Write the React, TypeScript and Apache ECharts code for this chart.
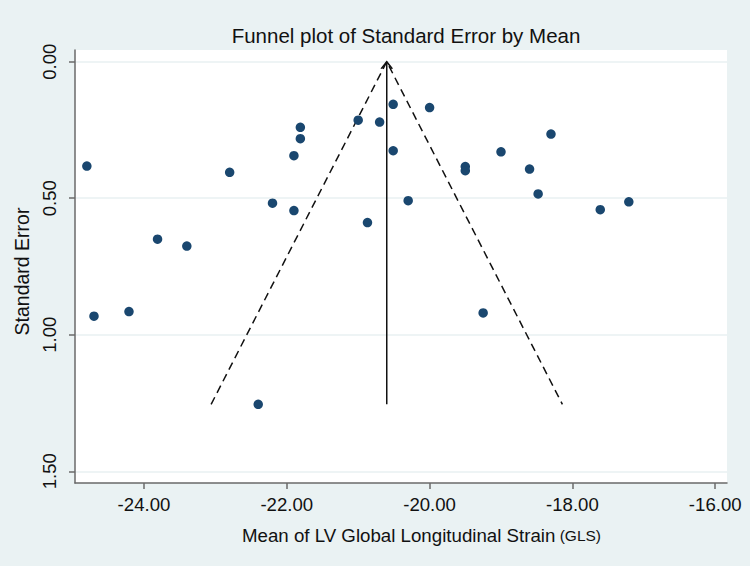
import React, { useEffect, useRef } from "react";
import * as echarts from "echarts";

// Study effect sizes (mean GLS) and their standard errors
const studyMeans: number[] = [
  -24.8, -24.7, -24.21, -23.81, -23.4, -22.8, -22.2, -21.9, -21.9, -21.81,
  -21.81, -22.4, -21.0, -20.87, -20.7, -20.51, -20.51, -20.3, -20.0, -19.5,
  -19.5, -19.25, -19.0, -18.6, -18.48, -18.3, -17.61, -17.21,
];
const studySE: number[] = [
  0.382, 0.932, 0.915, 0.65, 0.675, 0.405, 0.518, 0.344, 0.545, 0.24,
  0.282, 1.255, 0.214, 0.589, 0.221, 0.156, 0.326, 0.509, 0.168, 0.384,
  0.399, 0.92, 0.33, 0.393, 0.484, 0.265, 0.542, 0.513,
];

// Pooled estimate and funnel extent
const pooledMean = -20.6;
const maxSE = 1.255;

// Axis ticks
const xTicks: number[] = [-24, -22, -20, -18, -16];
const yTicks: number[] = [0, 0.5, 1.0, 1.5];

export default function App() {
  const ref = useRef<HTMLDivElement>(null);

  useEffect(() => {
    document.body.style.margin = "0";
    const chart = echarts.init(ref.current!, null, { renderer: "svg" });
    const points = studyMeans.map((m, i) => [m, studySE[i]]);
    const lo = pooledMean - 1.96 * maxSE;
    const hi = pooledMean + 1.96 * maxSE;
    const axisColor = "#6a6a6a";
    const font = "Liberation Sans, Arial, sans-serif";

    chart.setOption({
      animation: false,
      backgroundColor: "#eaf2f3",
      textStyle: { fontFamily: font },
      title: {
        text: "Funnel plot of Standard Error by Mean",
        left: 401,
        top: 20,
        textAlign: "center",
        textStyle: {
          fontFamily: font,
          fontSize: 20.5,
          fontWeight: "normal",
          color: "#111",
        },
      },
      grid: {
        left: 75,
        top: 50,
        right: 23,
        bottom: 83,
        show: true,
        backgroundColor: "#ffffff",
        borderWidth: 0,
      },
      xAxis: {
        type: "value",
        min: -24.966,
        max: -15.835,
        axisLine: { show: true, onZero: false, lineStyle: { color: axisColor, width: 1.5 } },
        axisTick: {
          show: true,
          length: 6,
          customValues: xTicks,
          lineStyle: { color: axisColor, width: 1.5 },
        },
        axisLabel: {
          customValues: xTicks,
          formatter: (v: number) => v.toFixed(2),
          fontSize: 18.6,
          color: "#111",
          margin: 12,
          fontFamily: font,
        },
        splitLine: { show: false },
        name: "{a|Mean of LV Global Longitudinal Strain}{b| (GLS)}",
        nameLocation: "middle",
        nameGap: 43,
        nameTextStyle: {
          padding: [0, 0, 0, 41],
          rich: {
            a: { fontSize: 18.7, color: "#111", fontFamily: font },
            b: { fontSize: 15.5, color: "#111", fontFamily: font },
          },
        },
      },
      yAxis: {
        type: "value",
        inverse: true,
        min: -0.043,
        max: 1.543,
        axisLine: { show: true, onZero: false, lineStyle: { color: axisColor, width: 1.5 } },
        axisTick: {
          show: true,
          length: 6,
          customValues: yTicks,
          lineStyle: { color: axisColor, width: 1.5 },
        },
        axisLabel: {
          customValues: yTicks,
          rotate: 90,
          formatter: (v: number) => v.toFixed(2),
          fontSize: 18.6,
          color: "#111",
          margin: 16,
          fontFamily: font,
        },
        splitLine: {
          show: true,
          customValues: yTicks,
          lineStyle: { color: "#e8f0f2", width: 1.5 },
        },
        name: "Standard Error",
        nameLocation: "middle",
        nameGap: 43,
        nameTextStyle: {
          fontSize: 19.5,
          color: "#111",
          fontFamily: font,
          padding: [0, 10, 0, 0],
        },
      },
      series: [
        {
          type: "line",
          silent: true,
          showSymbol: true,
          lineStyle: { color: "#111", width: 1.5 },
          data: [
            { value: [pooledMean, maxSE], symbol: "none" },
            {
              value: [pooledMean, 0],
              symbol: "path://M0 10 L5 0 L10 10",
              symbolSize: [11, 7],
              symbolOffset: [0, "50%"],
              itemStyle: { color: "none", borderColor: "#111", borderWidth: 1.5 },
            },
          ],
          z: 2,
        },
        {
          type: "line",
          silent: true,
          symbol: "none",
          lineStyle: { color: "#111", width: 1.5, type: [8, 5] },
          data: [
            [lo, maxSE],
            [pooledMean, 0],
            [hi, maxSE],
          ],
          z: 2,
        },
        {
          type: "scatter",
          symbol: "circle",
          symbolSize: 9.5,
          itemStyle: { color: "#1a476f", opacity: 1 },
          data: points,
          z: 3,
        },
      ],
    });

    return () => chart.dispose();
  }, []);

  return <div ref={ref} style={{ width: 750, height: 566 }} />;
}
